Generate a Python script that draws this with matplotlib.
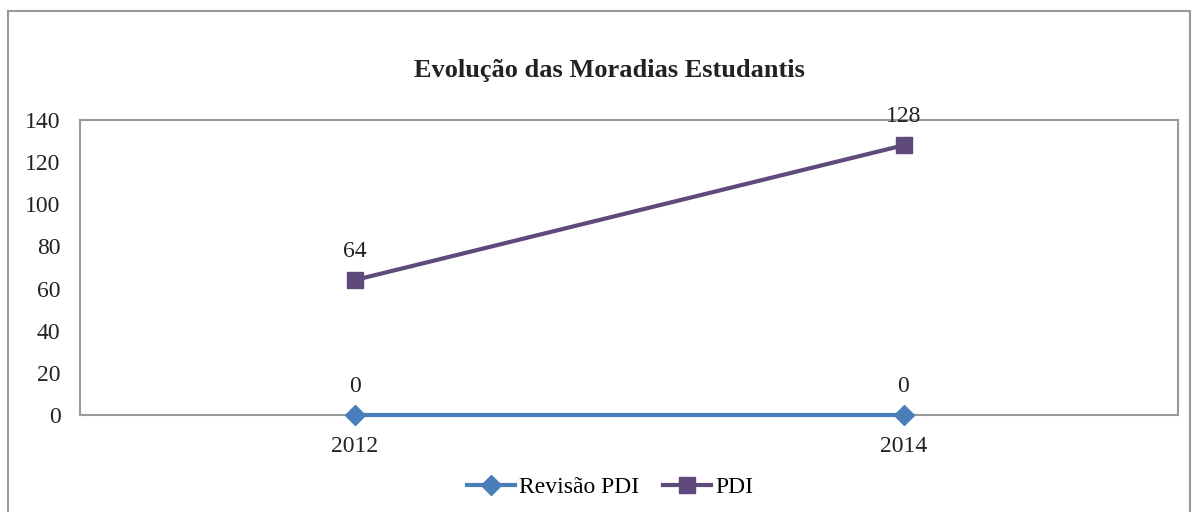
import matplotlib.pyplot as plt
from matplotlib.patches import Rectangle

anos = ['2012', '2014']
revisao_pdi = [0, 0]
pdi = [64, 128]

plt.rcParams['font.family'] = ['Liberation Serif', 'DejaVu Serif']

fig = plt.figure(figsize=(11.92, 5.12), dpi=100)
ax = fig.add_axes([80/1192, 1-415/512, 1098/1192, 295/512])

x = range(len(anos))
ax.plot(x, revisao_pdi, color='#4A7EBB', lw=3, marker='D', ms=10, label='Revisão PDI',
        zorder=4, clip_on=False)
ax.plot(x, pdi, color='#604A7B', lw=3, marker='s', ms=12, label='PDI', zorder=4, clip_on=False)

for i, v in zip(x, revisao_pdi):
    ax.annotate(str(v), (i, v), xytext=(0, 13), textcoords='offset points',
                ha='center', va='bottom', fontsize=17, color='#222222')
for i, v in zip(x, pdi):
    ax.annotate(str(v), (i, v), xytext=(0, 13), textcoords='offset points',
                ha='center', va='bottom', fontsize=17, color='#222222')

ax.set_xlim(-0.5, 1.5)
ax.set_ylim(0, 140)
ax.set_yticks(range(0, 141, 20))
ax.set_xticks(list(x))
ax.set_xticklabels(anos)
ax.tick_params(length=0, labelsize=17, colors='#222222')
ax.tick_params(axis='y', pad=14)
ax.tick_params(axis='x', pad=15)
for s in ax.spines.values():
    s.set_color('#999999')
    s.set_linewidth(1.5)

fig.text(609/1192, 1-70/512, 'Evolução das Moradias Estudantis', ha='center', va='center',
         fontsize=19, fontweight='bold', color='#222222')

fig.legend(loc='center', bbox_to_anchor=(610/1192, 1-487/512), ncol=2, frameon=False,
           fontsize=17, handlelength=2.05, columnspacing=1.0, handletextpad=0.17)

fig.patches.append(Rectangle((8/1192, -0.05), 1182/1192, 1-11/512+0.05, transform=fig.transFigure,
                             fill=False, edgecolor='#999999', lw=1.5))

fig.savefig('out.png', dpi=100)
